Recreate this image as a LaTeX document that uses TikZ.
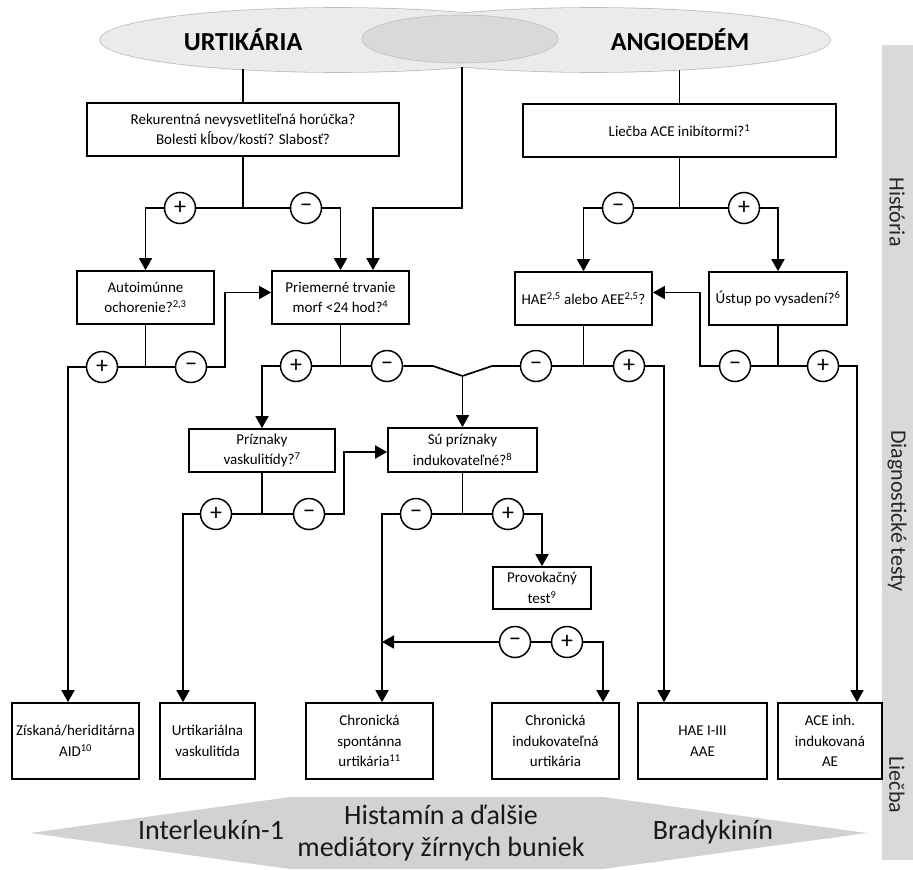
\documentclass[tikz,border=0pt]{standalone}
\usepackage{fontspec}
\setmainfont{Carlito}
\usetikzlibrary{arrows.meta,shapes.geometric}
\definecolor{elLight}{RGB}{235,235,235}
\definecolor{elDark}{RGB}{217,217,217}
\definecolor{elLine}{RGB}{190,190,190}
\definecolor{barGray}{RGB}{217,217,217}
\definecolor{arrGray}{RGB}{210,210,210}
\begin{document}
\begin{tikzpicture}[x=1pt,y=-1pt,
  box/.style={draw, line width=1.7pt, align=center, inner sep=0pt, fill=white, font=\fontsize{15}{20.5}\selectfont},
  pm/.style={draw, circle, line width=1.5pt, minimum size=31pt, inner sep=0pt, fill=white, font=\fontsize{24}{24}\selectfont},
  ln/.style={line width=1.7pt},
  arr/.style={line width=1.7pt, -{Triangle[width=13pt,length=12pt]}},
  bigel/.style={ellipse, minimum width=474pt, minimum height=64pt, inner sep=0pt},
  side/.style={rotate=-90, font=\fontsize{22}{22}\selectfont, text=black!85},
  title/.style={anchor=base, font=\fontsize{26}{26}\selectfont\bfseries},
  band/.style={font=\fontsize{28}{32}\selectfont, align=center, text=black!90}
]
\useasboundingbox (0,0) rectangle (913,870);

% ---- top ellipses
\node[bigel, draw=elLine, line width=1.6pt, fill=elLight] (ellU) at (337,40) {};
\node[bigel, draw=elLine, line width=1.6pt, fill=elLight] (ellA) at (593,40) {};
\node[bigel, fill=elLight] at (337,40) {};
\node[bigel, fill=elLight] at (593,40) {};
\node[ellipse, draw=elLine, line width=0.6pt, fill=elDark, minimum width=196pt, minimum height=48pt, inner sep=0pt] (ellM) at (460,39) {};
\node[title] (tU) at (243,50) {URTIKÁRIA};
\node[title] (tA) at (680,50) {ANGIOEDÉM};

% ---- side bar
\fill[barGray] (882,45) rectangle (913,860);
\node[side] (sH) at (897,212) {História};
\node[side] (sD) at (897,511) {Diagnostické testy};
\node[side] (sL) at (897,785) {Liečba};

% ---- bottom band
\fill[arrGray] (30,833) -- (290,797) -- (603,797) -- (867,833) -- (603,869) -- (290,869) -- cycle;
\node[band, anchor=base] (iL) at (211,839) {Interleukín-1};
\node[band] (hM) at (441,833) {Histamín a ďalšie\\mediátory žírnych buniek};
\node[band, anchor=base] (bK) at (713,839) {Bradykinín};

% ---- boxes
\node[box, minimum width=312pt, minimum height=53pt] (rek) at (243,129.5) {Rekurentná nevysvetliteľná horúčka?\\Bolesti kĺbov/kostí? Slabosť?};
\node[box, minimum width=313pt, minimum height=53pt] (ace) at (679.5,130.5) {Liečba ACE inibítormi?\textsuperscript{1}};
\node[box, minimum width=137pt, minimum height=53pt] (auto) at (145.5,297.5) {Autoimúnne\\ochorenie?\textsuperscript{2,3}};
\node[box, minimum width=137pt, minimum height=53pt] (priem) at (340.5,297.5) {Priemerné trvanie\\morf <24 hod?\textsuperscript{4}};
\node[box, minimum width=137pt, minimum height=53pt] (hae) at (583.5,298.5) {HAE\textsuperscript{2,5} alebo AEE\textsuperscript{2,5}?};
\node[box, minimum width=138pt, minimum height=53pt] (ustup) at (778,298.5) {Ústup po vysadení?\textsuperscript{6}};
\node[box, minimum width=146pt, minimum height=43pt] (prizn) at (262,450.5) {Príznaky\\vaskulitídy?\textsuperscript{7}};
\node[box, minimum width=149pt, minimum height=44pt] (su) at (462.5,450) {Sú príznaky\\indukovateľné?\textsuperscript{8}};
\node[box, minimum width=98pt, minimum height=42pt] (prov) at (542,588) {Provokačný\\test\textsuperscript{9}};
\node[box, minimum width=127pt, minimum height=76pt] (zisk) at (75.5,741) {Získaná/heriditárna\\AID\textsuperscript{10}};
\node[box, minimum width=95pt, minimum height=76pt] (urtv) at (207.5,741) {Urtikariálna\\vaskulitída};
\node[box, minimum width=127pt, minimum height=76pt] (chs) at (369.5,741) {Chronická\\spontánna\\urtikária\textsuperscript{11}};
\node[box, minimum width=127pt, minimum height=76pt] (chi) at (555.5,741) {Chronická\\indukovateľná\\urtikária};
\node[box, minimum width=129pt, minimum height=76pt] (hae3) at (702.5,741) {HAE I-III\\AAE};
\node[box, minimum width=104pt, minimum height=76pt] (acei) at (830,741) {ACE inh.\\indukovaná\\AE};

% ---- lines from the ellipses
\coordinate (e1) at (243,69);
\coordinate (e2) at (462,67);
\coordinate (e3) at (679.5,70);
\coordinate (k2) at (462,208);
\draw[ln] (e1) -- (rek.north);
\draw[ln] (e3) -- (ace.north);
\draw[arr] (e2) -- (k2) -| ([xshift=32.5pt]priem.north);

% ---- branch 1 (rek)
\node[pm] (b1p) at (180,208) {+};
\node[pm] (b1m) at (306,208) {−};
\draw[ln] (rek.south) -- (rek.south |- b1p);
\draw[ln] (b1p) -- (b1m);
\draw[arr] (b1p) -| (auto.north);
\draw[arr] (b1m) -| (priem.north);

% ---- branch 2 (ace)
\node[pm] (b2m) at (618,208) {−};
\node[pm] (b2p) at (744,208) {+};
\draw[ln] (ace.south) -- (ace.south |- b2m);
\draw[ln] (b2m) -- (b2p);
\draw[arr] (b2m) -| (hae.north);
\draw[arr] (b2p) -| (ustup.north);

% ---- branch 3 (auto)
\node[pm] (b3p) at (102,367) {+};
\node[pm] (b3m) at (191,367) {−};
\coordinate (c3) at (225,367);
\draw[ln] (auto.south) -- (auto.south |- b3p);
\draw[ln] (b3p) -- (b3m);
\draw[arr] (b3p) -| ([xshift=-7.5pt]zisk.north);
\draw[arr] (b3m) -- (c3) |- ([yshift=5pt]priem.west);

% ---- branch 4 (priem)
\node[pm] (b4p) at (296,366) {+};
\node[pm] (b4m) at (387,366) {−};
\coordinate (mg) at (462.5,376);
\coordinate (m4) at (433,366);
\draw[ln] (priem.south) -- (priem.south |- b4p);
\draw[ln] (b4p) -- (b4m);
\draw[arr] (b4p) -| (prizn.north);
\draw[ln] (b4m) -- (m4) -- (mg);
\draw[arr] (mg) -- (su.north);

% ---- branch 5 (hae)
\node[pm] (b5m) at (536,366) {−};
\node[pm] (b5p) at (629,366) {+};
\coordinate (m5) at (492,366);
\draw[ln] (hae.south) -- (hae.south |- b5m);
\draw[ln] (b5m) -- (b5p);
\draw[ln] (b5m) -- (m5) -- (mg);
\draw[arr] (b5p) -| ([xshift=-38.5pt]hae3.north);

% ---- branch 6 (ustup)
\node[pm] (b6m) at (735,366) {−};
\node[pm] (b6p) at (823,366) {+};
\coordinate (c6) at (700,366);
\draw[ln] (ustup.south) -- (ustup.south |- b6m);
\draw[ln] (b6m) -- (b6p);
\draw[arr] (b6m) -- (c6) |- ([yshift=6pt]hae.east);
\draw[arr] (b6p) -| ([xshift=27pt]acei.north);

% ---- branch 7 (prizn)
\node[pm] (b7p) at (216,514) {+};
\node[pm] (b7m) at (309,514) {−};
\coordinate (c7) at (344,514);
\draw[ln] (prizn.south) -- (prizn.south |- b7p);
\draw[ln] (b7p) -- (b7m);
\draw[arr] (b7p) -| ([xshift=-24.5pt]urtv.north);
\draw[arr] (b7m) -- (c7) |- ([yshift=-2pt]su.west);

% ---- branch 8 (su)
\node[pm] (b8m) at (416,514) {−};
\node[pm] (b8p) at (508,514) {+};
\draw[ln] (su.south) -- (su.south |- b8m);
\draw[ln] (b8m) -- (b8p);
\draw[arr] (b8m) -| ([xshift=12.5pt]chs.north);
\draw[arr] (b8p) -| (prov.north);

% ---- branch 9 (provocation result)
\node[pm] (b9m) at (515,642) {−};
\node[pm] (b9p) at (567,642) {+};
\coordinate (c9) at (382,642);
\draw[ln] (b9m) -- (b9p);
\draw[arr] (b9p) -| ([xshift=47.5pt]chi.north);
\draw[arr] (b9m) -- (c9);
\end{tikzpicture}
\end{document}
